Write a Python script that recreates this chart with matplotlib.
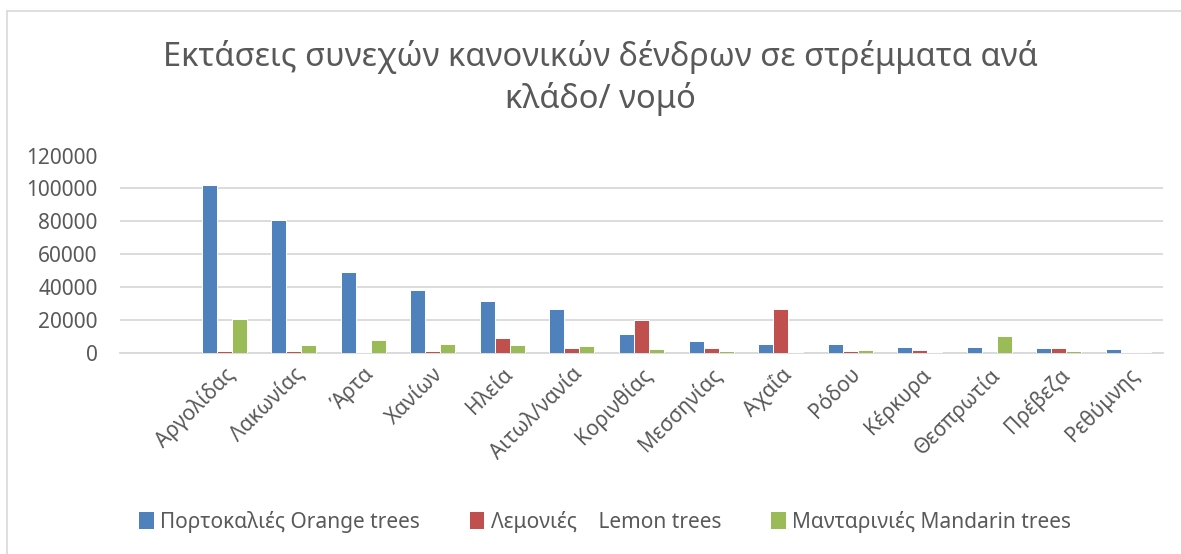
import numpy as np
import matplotlib
matplotlib.use('Agg')
from matplotlib import pyplot as plt
from matplotlib.lines import Line2D
from matplotlib.patches import Patch

plt.rcParams['font.family'] = ['Noto Sans', 'DejaVu Sans']

# data (stremmata)
regions = ['Αργολίδας', 'Λακωνίας', 'Άρτα', 'Χανίων', 'Ηλεία', 'Αιτωλ/νανία', 'Κορινθίας',
           'Μεσσηνίας', 'Αχαΐα', 'Ρόδου', 'Κέρκυρα', 'Θεσπρωτία', 'Πρέβεζα', 'Ρεθύμνης']
orange = [102000, 80600, 49300, 38200, 31300, 26600, 11100, 6900, 5500, 5000, 3600, 3200, 2800, 2000]
lemon = [800, 800, 200, 800, 8700, 3000, 20200, 2800, 26500, 1000, 1600, 0, 2800, 400]
mandarin = [20700, 4500, 7500, 5300, 4500, 4300, 2000, 1000, 400, 1600, 200, 9900, 1000, 200]
series_names = ['Πορτοκαλιές Orange trees', 'Λεμονιές    Lemon trees', 'Μανταρινιές Mandarin trees']
colors = ['#4F81BD', '#C0504D', '#9BBB59']
yticks = [0, 20000, 40000, 60000, 80000, 100000, 120000]

text_col = '#595959'
grid_col = '#D9D9D9'

W, H = 1181, 554
fig = plt.figure(figsize=(W / 100, H / 100), dpi=100)
ax = fig.add_axes([120 / W, 1 - 352.7 / H, (1163 - 120) / W, (352.7 - 155.5) / H])

# first category slot is empty in the original sheet
x = np.arange(len(regions)) + 1
bw = 0.216
for i, vals in enumerate([orange, lemon, mandarin]):
    ax.bar(x + (i - 1) * bw, vals, width=bw, color=colors[i],
           edgecolor='white', linewidth=0.7, zorder=3)

ax.set_xlim(-0.5, len(regions) + 0.5)
ax.set_ylim(0, 120000)
ax.set_yticks(yticks)
ax.set_yticklabels([str(v) for v in yticks])
ax.yaxis.grid(True, color=grid_col, linewidth=1.3, zorder=0)
ax.set_axisbelow(True)
for s in ['top', 'right', 'left']:
    ax.spines[s].set_visible(False)
ax.spines['bottom'].set_color(grid_col)
ax.spines['bottom'].set_linewidth(1.3)
ax.spines['bottom'].set_zorder(1)
ax.tick_params(axis='y', length=0, pad=16, labelsize=15, labelcolor=text_col)
ax.tick_params(axis='x', length=0, pad=8, labelsize=15, labelcolor=text_col)
ax.set_xticks(x)
ax.set_xticklabels(regions, rotation=45, ha='right', rotation_mode='anchor')

fig.text(600 / W, 1 - 78 / H,
         'Εκτάσεις συνεχών κανονικών δένδρων σε στρέμματα ανά\nκλάδο/ νομό',
         ha='center', va='center', fontsize=23.5, color=text_col, linespacing=1.3)

handles = [Patch(facecolor=c, edgecolor='none') for c in colors]
fig.legend(handles, series_names, loc='center', bbox_to_anchor=(605 / W, 1 - 522 / H),
           ncol=3, frameon=False, fontsize=15, labelcolor=text_col,
           handlelength=0.7, handleheight=0.9, handletextpad=0.3, columnspacing=2.4)

# chart area border (only left/top visible in the crop)
fig.add_artist(Line2D([7 / W, 7 / W], [0, 1 - 11 / H], transform=fig.transFigure,
                      color=grid_col, linewidth=1.2))
fig.add_artist(Line2D([7 / W, 1], [1 - 11 / H, 1 - 11 / H], transform=fig.transFigure,
                      color=grid_col, linewidth=1.2))

fig.savefig('out.png', dpi=100, facecolor='white')
